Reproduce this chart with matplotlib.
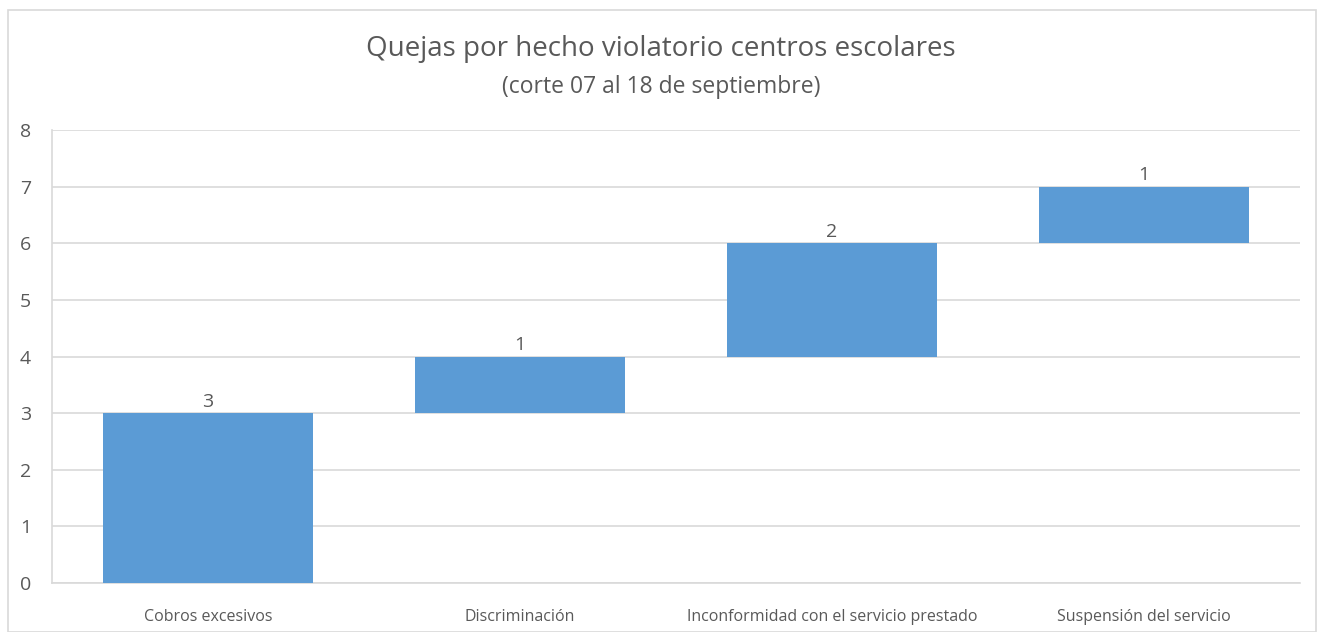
import matplotlib
matplotlib.use("Agg")
import matplotlib.pyplot as plt
from matplotlib.patches import Rectangle

categories = ["Cobros excesivos", "Discriminación", "Inconformidad con el servicio prestado", "Suspensión del servicio"]
values = [3, 1, 2, 1]
title = "Quejas por hecho violatorio centros escolares"
subtitle = "(corte 07 al 18 de septiembre)"
yticks = [0, 1, 2, 3, 4, 5, 6, 7, 8]

bases = []
acc = 0
for v in values:
    bases.append(acc)
    acc += v

plt.rcParams['font.family'] = ['Open Sans', 'DejaVu Sans']
txt = '#595959'
W, H = 1318, 632
fig = plt.figure(figsize=(W/100, H/100), dpi=100)
fig.patches.append(Rectangle((8/W, 0), (1316-8)/W, (H-10)/H, transform=fig.transFigure,
                             fill=False, edgecolor='#d9d9d9', linewidth=1.2))
ax = fig.add_axes([52/W, (H-583)/H, (1300-52)/W, (583-130)/H])
x = list(range(len(categories)))
ax.bar(x, values, bottom=bases, width=0.673, color='#5b9bd5', zorder=3)
for xi, b, v in zip(x, bases, values):
    ax.text(xi, b + v + 0.04, str(v), ha='center', va='bottom', fontsize=14, color=txt, zorder=4)
ax.set_xlim(-0.5, len(categories) - 0.5)
ax.set_ylim(0, 8)
ax.set_yticks(yticks)
ax.set_yticklabels([str(t) for t in yticks], fontsize=14, color=txt)
ax.set_xticks(x)
ax.set_xticklabels(categories, fontsize=11.5, color=txt)
ax.tick_params(axis='both', length=0)
ax.tick_params(axis='x', pad=19)
ax.tick_params(axis='y', pad=15)
ax.grid(axis='y', color='#d9d9d9', linewidth=1.2, zorder=0)
for s in ['top', 'right']:
    ax.spines[s].set_visible(False)
ax.spines['left'].set_color('#d9d9d9')
ax.spines['bottom'].set_color('#d9d9d9')
ax.spines['left'].set_linewidth(1.2)
ax.spines['bottom'].set_linewidth(1.2)
fig.text(661/W, 1 - 49/H, title, ha='center', va='center', fontsize=20, color=txt)
fig.text(661/W, 1 - 87/H, subtitle, ha='center', va='center', fontsize=16.5, color=txt)
fig.savefig("out.png", dpi=100)
